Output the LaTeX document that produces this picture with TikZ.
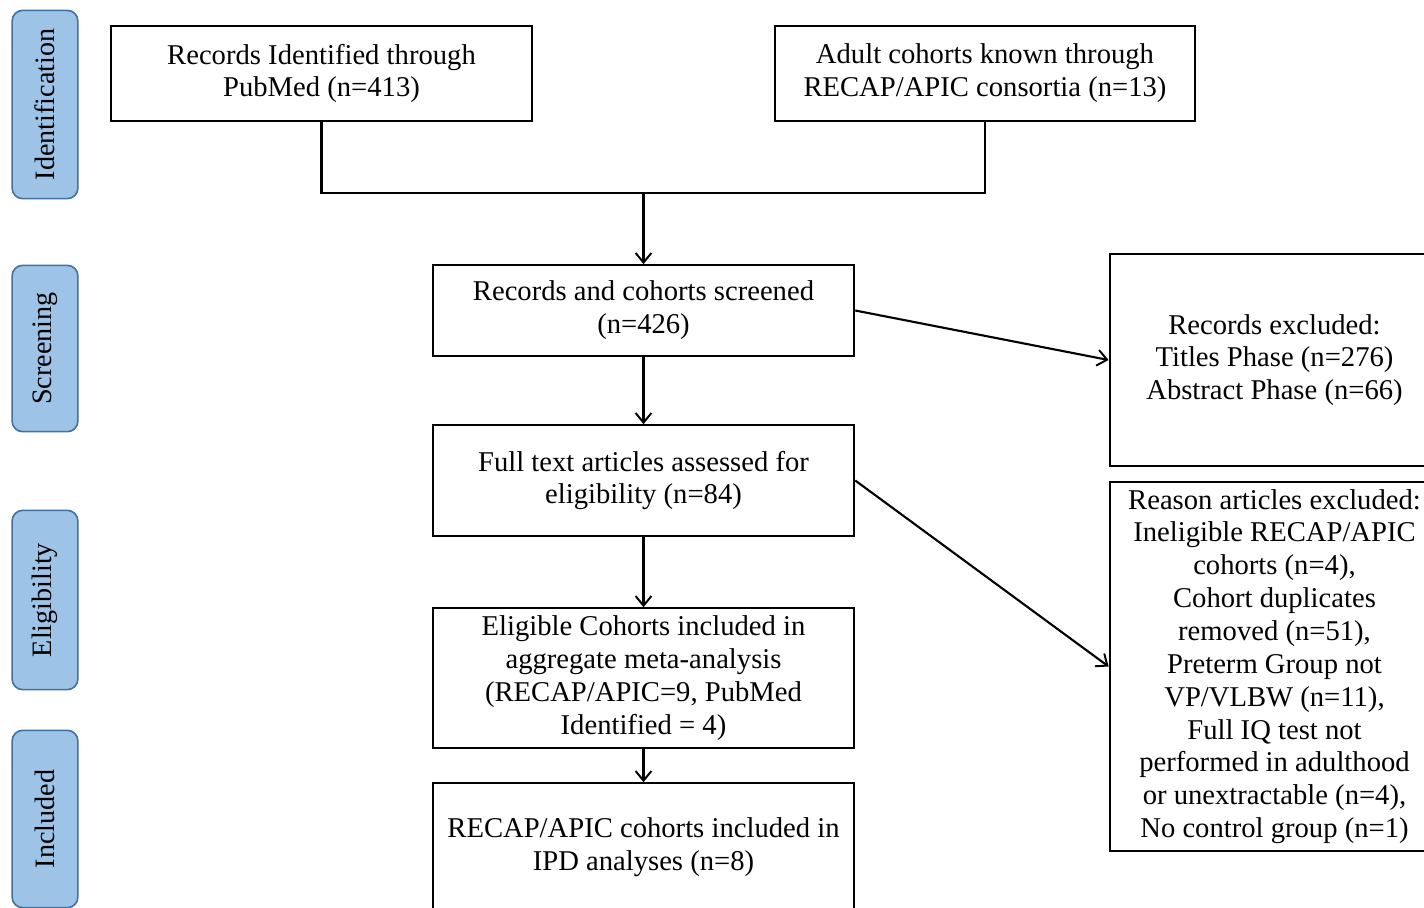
\documentclass[tikz,border=0pt]{standalone}
\usepackage{fontspec}
\setmainfont{Liberation Serif}
\usetikzlibrary{arrows.meta}
\definecolor{sidefill}{RGB}{157,195,230}
\definecolor{sidedraw}{RGB}{65,113,156}
\tikzset{
  box/.style={draw=black, line width=1.2pt, fill=white, align=center, inner sep=0pt,
    font=\fontsize{16.3pt}{18.7pt}\selectfont},
  side/.style={draw=sidedraw, line width=0.9pt, fill=sidefill, rounded corners=6pt,
    rotate=90, inner sep=0pt, font=\fontsize{16pt}{18.7pt}\selectfont},
  conn/.style={line width=1.2pt, draw=black},
  arr/.style={conn, -{Straight Barb[length=5.5pt,width=9pt,line width=1.1pt]}}
}
\begin{document}
\begin{tikzpicture}[x=0.02cm,y=-0.02cm]
\useasboundingbox (0,0) rectangle (1424,907);
\clip (0,0) rectangle (1424,907);
\fill[white] (0,0) rectangle (1424,907);
% side labels (rotated: minimum width = vertical extent)
\node[side, minimum width=189*0.567pt, minimum height=66*0.567pt] (sid) at (45,104.5) {Identification};
\node[side, minimum width=167*0.567pt, minimum height=66*0.567pt] (ssc) at (45,348.5) {Screening};
\node[side, minimum width=180*0.567pt, minimum height=66*0.567pt] (sel) at (45,600) {Eligibility};
\node[side, minimum width=178*0.567pt, minimum height=66*0.567pt] (sin) at (45,819) {Included};
% main boxes
\node[box, minimum width=423*0.567pt, minimum height=95*0.567pt] (b1) at (321.5,73.5) {Records Identified through\\PubMed (n=413)};
\node[box, minimum width=422*0.567pt, minimum height=95*0.567pt] (b2) at (985,73.5) {Adult cohorts known through\\RECAP/APIC consortia (n=13)};
\node[box, minimum width=423*0.567pt, minimum height=91*0.567pt] (scr) at (643.5,310.5) {Records and cohorts screened\\(n=426)};
\node[box, minimum width=423*0.567pt, minimum height=111*0.567pt] (full) at (643.5,480.5) {Full text articles assessed for\\eligibility (n=84)};
\node[box, minimum width=423*0.567pt, minimum height=140*0.567pt] (elig) at (643.5,678) {Eligible Cohorts included in\\aggregate meta-analysis\\(RECAP/APIC=9, PubMed\\Identified = 4)};
\node[box, minimum width=423*0.567pt, minimum height=128*0.567pt] (incl) at (643.5,847) {RECAP/APIC cohorts included in\\IPD analyses (n=8)};
\node[box, minimum width=331*0.567pt, minimum height=212*0.567pt] (exa) at (1274.5,360) {Records excluded:\\Titles Phase (n=276)\\Abstract Phase (n=66)};
\node[box, minimum width=331*0.567pt, minimum height=371*0.567pt] (exb) at (1274.5,666.5) {Reason articles excluded:\\Ineligible RECAP/APIC\\cohorts (n=4),\\Cohort duplicates\\removed (n=51),\\Preterm Group not\\VP/VLBW (n=11),\\Full IQ test not\\performed in adulthood\\or unextractable (n=4),\\No control group (n=1)};
% connectors
\coordinate (m) at (643.5,193);
\draw[conn] (b1.south) |- (m) -| (b2.south);
\draw[arr] (m) -- (scr.north);
\draw[arr] (scr.south) -- (full.north);
\draw[arr] (full.south) -- (elig.north);
\draw[arr] (elig.south) -- (incl.north);
\draw[arr] (scr.east) -- (exa.west);
\draw[arr] (full.east) -- (exb.west);
\end{tikzpicture}
\end{document}
